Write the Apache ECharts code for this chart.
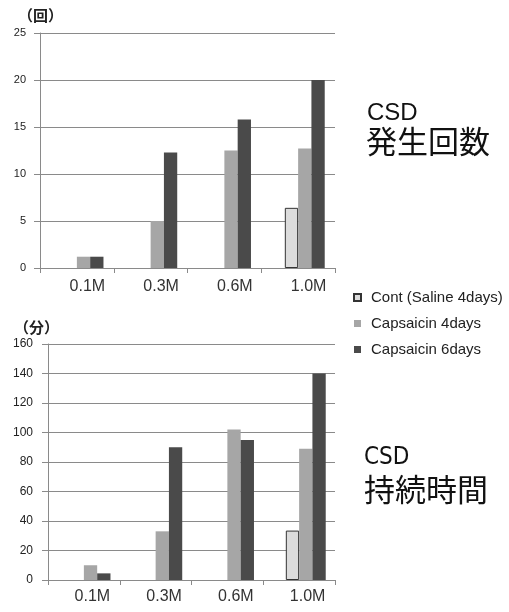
<!DOCTYPE html>
<html><head><meta charset="utf-8">
<script src="https://cdn.jsdelivr.net/npm/echarts@6/dist/echarts.min.js"></script>
<style>html,body{margin:0;padding:0;background:#fff}#c{width:509px;height:612px}</style>
</head><body><div id="c"></div>
<script>
const categories = ['0.1M', '0.3M', '0.6M', '1.0M'];
const seriesNames = ['Cont (Saline 4days)', 'Capsaicin 4days', 'Capsaicin 6days'];
// CSD 発生回数 (回)
const countCont = [null, null, null, 6.4];
const countCap4 = [1.2, 5.0, 12.5, 12.7];
const countCap6 = [1.2, 12.3, 15.8, 20.0];
// CSD 持続時間 (分)
const durCont = [null, null, null, 33.5];
const durCap4 = [10, 33, 102, 89];
const durCap6 = [4.5, 90, 95, 140];
const countTicks = {min: 0, max: 25, interval: 5};
const durTicks = {min: 0, max: 160, interval: 20};

const colors = ['#dcdcdc', '#a6a6a6', '#4a4a4a'];
const gridColor = '#8a8a8a';
const font = 'Liberation Sans, Arial, sans-serif';

function xAxis(gi, pad, margin) {
  return {
    type: 'category', gridIndex: gi, data: categories,
    axisLine: {lineStyle: {color: gridColor, width: 1}},
    axisTick: {show: true, length: 5, lineStyle: {color: gridColor}},
    axisLabel: {color: '#333', fontSize: 16, fontFamily: font, margin: margin, padding: [0, 0, 0, pad]}
  };
}
function yAxis(gi, t, fs, margin) {
  return {
    type: 'value', gridIndex: gi, min: t.min, max: t.max, interval: t.interval,
    axisLine: {show: true, lineStyle: {color: gridColor}},
    axisTick: {show: true, length: 6, lineStyle: {color: gridColor}},
    axisLabel: {color: '#222', fontSize: fs, fontFamily: font, margin: margin},
    splitLine: {lineStyle: {color: gridColor, width: 1}}
  };
}
function bars(gi, cont, c4, c6) {
  const base = {type: 'bar', xAxisIndex: gi, yAxisIndex: gi, barWidth: 13.3, barGap: '0%'};
  return [
    Object.assign({}, base, {name: '_spacer' + gi, data: [], silent: true}),
    Object.assign({}, base, {name: seriesNames[0], data: cont, itemStyle: {color: colors[0], borderColor: '#333', borderWidth: 1}}),
    Object.assign({}, base, {name: seriesNames[1], data: c4, itemStyle: {color: colors[1]}}),
    Object.assign({}, base, {name: seriesNames[2], data: c6, itemStyle: {color: colors[2]}})
  ];
}

const chart = echarts.init(document.getElementById('c'), null, {renderer: 'canvas'});
chart.setOption({
  backgroundColor: '#fff',
  animation: false,
  grid: [
    {left: 40, top: 33, width: 295, height: 235},
    {left: 48, top: 344, width: 287, height: 236}
  ],
  xAxis: [xAxis(0, 21, 11), xAxis(1, 17, 9)],
  yAxis: [yAxis(0, countTicks, 11, 14), yAxis(1, durTicks, 12, 15)],
  legend: {
    data: seriesNames, orient: 'vertical', left: 348, top: 285,
    itemWidth: 7, itemHeight: 7, itemGap: 11, icon: 'rect',
    textStyle: {color: '#222', fontSize: 15, fontFamily: font, padding: [0, 0, 0, 5]}
  },
  series: [].concat(bars(0, countCont, countCap4, countCap6), bars(1, durCont, durCap4, durCap6)),
  graphic: [
    {type: 'text', left: 18, top: 8, style: {text: '（回）', fill: '#222', font: 'bold 15px "Noto Sans CJK JP"'}},
    {type: 'text', left: 14, top: 320, style: {text: '（分）', fill: '#222', font: 'bold 15px "Noto Sans CJK JP"'}},
    {type: 'text', left: 367, top: 101, style: {text: 'CSD', fill: '#111', font: '24px "Liberation Sans"'}},
    {type: 'text', left: 366, top: 126, style: {text: '発生回数', fill: '#111', font: '31px "Noto Sans CJK JP"'}},
    {type: 'text', left: 364, top: 446, style: {text: 'CSD', fill: '#111', font: '24px "DejaVu Sans Condensed", "Liberation Sans"'}},
    {type: 'text', left: 364, top: 474, style: {text: '持続時間', fill: '#111', font: '31px "Noto Sans CJK JP"'}}
  ]
});
</script></body></html>
